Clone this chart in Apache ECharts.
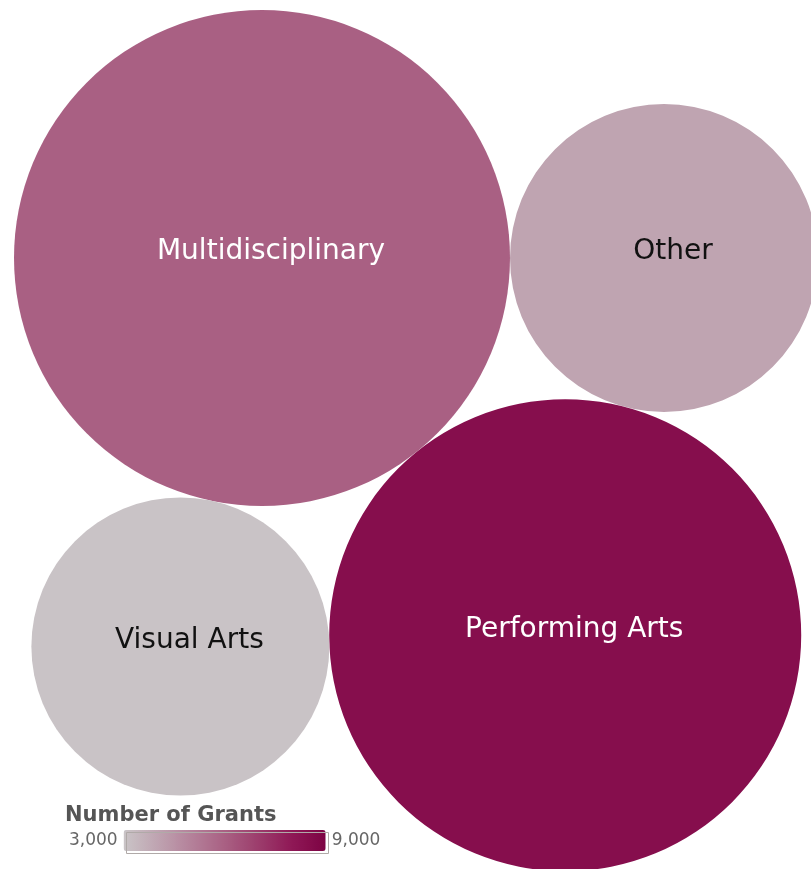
<!DOCTYPE html>
<html><head><meta charset="utf-8">
<script src="https://cdn.jsdelivr.net/npm/echarts@6/dist/echarts.min.js"></script>
<style>html,body{margin:0;padding:0;background:#fff}#c{width:811px;height:869px}</style>
</head><body><div id="c"></div>
<script>
// ---- data ----
const categories = ['Multidisciplinary', 'Other', 'Performing Arts', 'Visual Arts'];
const grantCounts = [6000, 4000, 8500, 3050];          // colour measure
const sizeValues = [61500, 23700, 55700, 22200];       // bubble area measure
const legendTicks = ['3,000', '9,000'];
const legendMin = 3000, legendMax = 9000;

// ---- packed-bubble layout computed from the sizes ----
const radii = sizeValues.map(v => Math.sqrt(v));
function tangent(a, b, r) {
  const dx = b.x - a.x, dy = b.y - a.y;
  const d = Math.hypot(dx, dy);
  const ra = a.r + r, rb = b.r + r;
  const x = (ra * ra - rb * rb + d * d) / (2 * d);
  const h = Math.sqrt(Math.max(0, ra * ra - x * x));
  const ux = dx / d, uy = dy / d;
  return { x: a.x + x * ux - h * uy, y: a.y + x * uy + h * ux, r: r };
}
const pos = [];
pos[0] = { x: 0, y: 0, r: radii[0] };
pos[1] = { x: radii[0] + radii[1], y: 0, r: radii[1] };
pos[2] = tangent(pos[0], pos[1], radii[2]);
pos[3] = tangent(pos[0], pos[2], radii[3]);
const seriesData = categories.map((c, i) => [pos[i].x, pos[i].y, radii[i], grantCounts[i], sizeValues[i]]);

const chart = echarts.init(document.getElementById('c'), null, { renderer: 'canvas' });
const FONT = '"DejaVu Sans", Verdana, sans-serif';
chart.setOption({
  animation: false,
  backgroundColor: '#ffffff',
  title: {
    text: 'Number of Grants', left: 60, top: 800,
    textStyle: { fontFamily: FONT, fontSize: 21, fontWeight: 'bold', color: '#555555' }
  },
  grid: { left: 0, right: 0, top: 0, bottom: 0 },
  xAxis: { type: 'value', min: -262, max: 549, show: false },
  yAxis: { type: 'value', min: -258, max: 611, inverse: true, show: false },
  visualMap: {
    type: 'continuous', orient: 'horizontal',
    min: legendMin, max: legendMax, dimension: 3, seriesIndex: 0,
    calculable: false, hoverLink: false,
    left: 54, top: 815, itemWidth: 21, itemHeight: 202,
    text: [legendTicks[1], legendTicks[0]], textGap: 6,
    textStyle: { fontFamily: FONT, fontSize: 17, color: '#666666' },
    inRange: { color: ['#cac5c7', '#bfa4b1', '#b4819a', '#a96083', '#9c3d6c', '#8f1856', '#7d0343'] }
  },
  graphic: [{
    type: 'rect', left: 124, top: 830, z: 100,
    shape: { width: 202, height: 21 },
    style: { fill: 'none', stroke: '#b0aaa8', lineWidth: 1 }
  }],
  series: [{
    type: 'custom',
    coordinateSystem: 'cartesian2d',
    data: seriesData,
    renderItem: function (params, api) {
      const c = api.coord([api.value(0), api.value(1)]);
      const s = api.size([api.value(2), api.value(2)]);
      const r = Math.abs(s[0]);
      const idx = params.dataIndex;
      return {
        type: 'group',
        children: [
          { type: 'circle', shape: { cx: c[0], cy: c[1], r: r }, style: { fill: api.visual('color') } },
          { type: 'text', x: c[0] + 9, y: c[1] - 6,
            style: { text: categories[idx], fill: api.value(3) > 5000 ? '#ffffff' : '#111111',
              fontSize: 28, fontFamily: FONT, align: 'center', verticalAlign: 'middle' } }
        ]
      };
    }
  }]
});
</script>
</body></html>
